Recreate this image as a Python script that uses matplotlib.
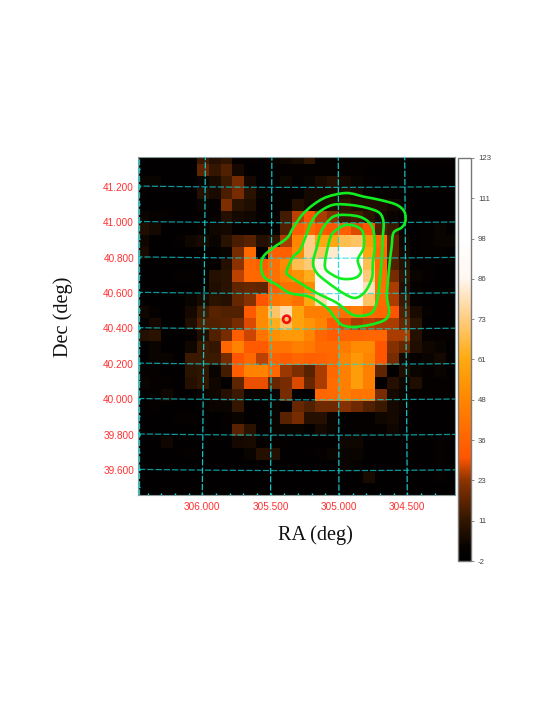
import numpy as np
import matplotlib
matplotlib.use("Agg")
import matplotlib.pyplot as plt
from matplotlib.colors import LinearSegmentedColormap, Normalize
from matplotlib.cm import ScalarMappable
from matplotlib.path import Path
from matplotlib.patches import PathPatch

counts = [
 [0,0,0,0,0,12,8,10,2,2,2,3,4,6,10,1,1,1,1,1,1,1,1,1,1,1,1],
 [0,0,0,0,0,17,11,15,5,0,0,1,1,1,1,1,1,1,1,0,0,0,0,0,0,0,0],
 [3,3,0,0,0,3,6,12,20,5,0,0,4,2,3,6,8,5,3,1,0,0,0,0,0,0,0],
 [2,0,0,0,0,8,6,14,20,9,3,0,1,2,5,5,6,7,6,3,2,1,0,0,0,0,0],
 [0,0,0,0,0,3,1,21,9,7,2,2,1,8,5,6,7,10,7,7,7,5,3,0,0,0,0],
 [3,2,1,0,0,0,2,8,5,4,1,2,13,26,30,25,22,12,13,9,5,3,1,0,0,0,0],
 [7,5,0,0,0,1,4,5,2,2,1,2,15,32,38,32,30,33,28,30,15,12,2,0,2,3,0],
 [4,0,0,1,4,6,3,9,14,16,8,10,25,48,74,60,60,68,70,55,40,16,4,0,1,3,3],
 [6,0,0,0,0,0,1,3,20,38,1,33,34,50,74,70,82,95,88,60,38,16,5,0,1,2,0],
 [0,0,0,0,0,0,2,8,23,37,33,40,50,68,72,85,110,118,105,68,38,15,8,0,2,0,0],
 [0,0,0,1,1,0,8,9,26,37,37,40,48,52,62,88,120,120,120,72,40,20,10,3,1,0,0],
 [0,0,0,0,0,2,7,9,17,18,17,33,40,40,50,95,120,120,120,80,40,25,8,2,0,0,0],
 [0,0,0,0,3,6,9,8,18,22,30,42,45,40,60,78,95,95,90,70,38,25,12,1,0,0,0],
 [4,2,0,0,5,12,16,15,15,32,50,70,78,58,45,45,45,40,45,38,36,30,15,6,1,0,0],
 [2,5,0,0,7,15,15,16,20,28,50,62,70,58,53,48,32,28,25,26,25,25,18,9,0,0,0],
 [8,9,0,0,2,7,15,20,33,27,41,51,55,55,48,36,33,35,35,36,36,25,25,8,2,2,1],
 [0,3,0,0,4,12,11,36,47,32,32,41,42,46,43,38,38,44,50,50,30,22,18,7,4,3,0],
 [0,3,3,0,12,12,12,20,30,37,26,35,33,36,34,35,37,48,54,48,30,20,5,1,3,5,0],
 [2,1,0,0,9,10,3,13,33,47,47,37,24,21,16,25,37,46,56,46,17,0,7,3,1,3,0],
 [3,2,1,0,8,10,4,0,17,29,29,18,20,28,18,25,39,46,56,46,0,8,4,7,1,2,2],
 [0,2,4,0,0,3,4,8,12,3,3,3,20,0,0,36,38,45,42,42,20,5,3,2,1,2,2],
 [0,1,0,0,0,1,3,3,11,0,0,3,0,18,15,19,19,22,19,15,12,5,3,0,0,0,0],
 [0,0,0,1,2,0,0,1,3,0,0,3,16,20,8,8,3,2,2,2,4,5,1,0,0,0,0],
 [0,0,0,0,0,0,0,1,16,9,1,3,3,3,1,5,3,1,1,2,2,4,0,0,0,0,0],
 [0,0,4,0,0,0,0,0,5,6,1,2,0,0,0,0,0,4,4,0,0,0,0,0,0,2,0],
 [0,0,0,0,1,0,0,0,0,3,8,8,0,0,0,2,3,3,3,0,0,0,0,0,0,2,0],
 [0,0,0,0,0,0,0,0,0,0,0,0,0,0,0,0,0,3,2,0,0,0,0,0,0,2,0],
 [0,0,0,0,0,0,0,0,0,0,0,0,0,0,0,0,0,0,0,6,0,0,0,0,0,1,0],
 [0,0,0,0,0,0,0,0,0,0,0,0,0,0,0,0,0,0,0,0,0,0,0,0,0,0,0],
]

contour1_ra = [305.577,305.562,305.488,305.384,305.339,305.272,305.190,305.086,304.938,304.804,304.692,304.566,304.506,304.499,304.528,304.588,304.603,304.618,304.632,304.640,304.625,304.655,304.766,304.893,304.975,305.027,305.086,305.213,305.362,305.458,305.548]
contour1_dec = [40.745,40.807,40.858,40.914,40.971,41.044,41.101,41.146,41.168,41.146,41.129,41.101,41.061,41.005,40.971,40.942,40.863,40.773,40.666,40.581,40.496,40.451,40.423,40.411,40.423,40.462,40.519,40.581,40.603,40.649,40.688]
contour2_ra = [305.384,305.339,305.287,305.235,305.213,305.153,305.042,304.915,304.789,304.692,304.662,304.670,304.677,304.692,304.707,304.737,304.789,304.893,305.012,305.161,305.287,305.376]
contour2_dec = [40.733,40.807,40.846,40.942,40.988,41.055,41.101,41.101,41.084,41.055,40.999,40.903,40.790,40.677,40.581,40.507,40.479,40.479,40.547,40.603,40.660,40.705]
contour3_ra = [305.190,305.161,305.124,305.042,304.938,304.818,304.744,304.729,304.744,304.751,304.804,304.878,304.967,305.086,305.161]
contour3_dec = [40.773,40.863,40.959,41.033,41.044,41.027,40.971,40.863,40.773,40.688,40.609,40.575,40.603,40.666,40.716]
contour4_ra = [305.101,305.079,305.042,304.938,304.826,304.811,304.856,304.833,304.878,304.967,305.042]
contour4_dec = [40.750,40.863,40.942,40.988,40.959,40.863,40.790,40.722,40.688,40.683,40.705]
contours = [(contour1_ra, contour1_dec), (contour2_ra, contour2_dec),
            (contour3_ra, contour3_dec), (contour4_ra, contour4_dec)]

source_ra = [305.386]
source_dec = [40.455]

ra_major = [306.0, 305.5, 305.0, 304.5]
ra_labels = ["306.000", "305.500", "305.000", "304.500"]
dec_major = [41.2, 41.0, 40.8, 40.6, 40.4, 40.2, 40.0, 39.8, 39.6]
dec_labels = ["41.200", "41.000", "40.800", "40.600", "40.400", "40.200", "40.000", "39.800", "39.600"]
cbar_ticks = [123, 110.5, 98, 85.5, 73, 60.5, 48, 35.5, 23, 10.5, -2]
cbar_labels = ["123", "111", "98", "86", "73", "61", "48", "36", "23", "11", "-2"]
vmin, vmax = -2, 123
cmap_values = [-2, 2, 11, 23, 30, 48, 61, 73, 86, 98, 123]
cmap_colors = ["#000000", "#060200", "#351700", "#8c3300", "#ff5500", "#ff8600",
               "#ffab10", "#ffcc80", "#fff7f2", "#ffffff", "#ffffff"]

W, H = 555, 719
fig = plt.figure(figsize=(W / 100, H / 100), dpi=100)

def box(x0, y0, x1, y1):
    return [x0 / W, 1 - y1 / H, (x1 - x0) / W, (y1 - y0) / H]

ax = fig.add_axes(box(138, 157, 455, 495))
ax.set_facecolor("black")

RA0, DEC0, X0, Y0, SCALE = 305.17, 40.5, 315.7, 311.3, 177.0

def sky_to_pix(ra, dec):
    ra, dec = np.radians(np.asarray(ra, float)), np.radians(np.asarray(dec, float))
    r0, d0 = np.radians(RA0), np.radians(DEC0)
    c = np.sin(d0) * np.sin(dec) + np.cos(d0) * np.cos(dec) * np.cos(ra - r0)
    xi = np.degrees(np.cos(dec) * np.sin(ra - r0) / c)
    eta = np.degrees((np.cos(d0) * np.sin(dec) - np.sin(d0) * np.cos(dec) * np.cos(ra - r0)) / c)
    return X0 - SCALE * xi, Y0 - SCALE * eta

cmap = LinearSegmentedColormap.from_list(
    "heat", [((v - vmin) / (vmax - vmin), c) for v, c in zip(cmap_values, cmap_colors)], N=512)
norm = Normalize(vmin, vmax)

img = np.array(counts, float)
CELL = 11.83
ax.imshow(img, cmap=cmap, norm=norm, interpolation="nearest", aspect="auto",
          extent=(137.5, 137.5 + img.shape[1] * CELL, 164 + (img.shape[0] - 1) * CELL, 164 - CELL),
          zorder=1)
ax.set_xlim(138, 455)
ax.set_ylim(495, 157)

# coordinate grid
grid_kw = dict(color="#10d8dc", lw=0.9, dashes=(5, 1.6), zorder=3)
dec_span = np.linspace(39.3, 41.5, 60)
ra_span = np.linspace(304.0, 306.8, 60)
for r in ra_major:
    x, y = sky_to_pix(np.full_like(dec_span, r), dec_span)
    ax.plot(x, y, alpha=0.9, **grid_kw)
for d in dec_major:
    x, y = sky_to_pix(ra_span, np.full_like(ra_span, d))
    ax.plot(x, y, alpha=0.7, **grid_kw)
ax.axvline(138.8, alpha=0.9, **grid_kw)

# contours
for c_ra, c_dec in contours:
    x, y = sky_to_pix(c_ra, c_dec)
    p = np.column_stack([x, y])
    n = len(p)
    verts, codes = [p[0]], [Path.MOVETO]
    for i in range(n):
        p0, p1, p2, p3 = p[(i - 1) % n], p[i], p[(i + 1) % n], p[(i + 2) % n]
        verts += [p1 + (p2 - p0) / 6, p2 - (p3 - p1) / 6, p2]
        codes += [Path.CURVE4] * 3
    ax.add_patch(PathPatch(Path(verts, codes), fc="none", ec="#10ee20", lw=1.9, zorder=4))

# source marker
sx, sy = sky_to_pix(source_ra, source_dec)
ax.scatter(sx, sy, s=26, facecolors="none", edgecolors="#f01010", linewidths=1.9, zorder=5)

# ticks
bx, _ = sky_to_pix(np.array(ra_major), np.full(len(ra_major), 39.47))
_, ly = sky_to_pix(np.full(len(dec_major), 306.4), np.array(dec_major))
ax.set_xticks(bx)
ax.set_xticklabels(ra_labels, family="Liberation Sans", fontsize=7.2, color="#ff3030")
ax.set_yticks(ly + 0.5)
ax.set_yticklabels(dec_labels, family="Liberation Sans", fontsize=7.2, color="#ff3030")
ra_minor = np.arange(304.3, 306.56, 0.1)
dec_minor = np.arange(39.5, 41.36, 0.1)
mx, _ = sky_to_pix(ra_minor, np.full(len(ra_minor), 39.47))
_, my = sky_to_pix(np.full(len(dec_minor), 306.4), dec_minor)
mx = mx[(mx > 139) & (mx < 454)]
my = my[(my > 158) & (my < 494)]
ax.set_xticks(mx, minor=True)
ax.set_yticks(my, minor=True)
ax.tick_params(axis="x", which="major", direction="in", length=1.5, width=1, color="#10e0e0", pad=5)
ax.tick_params(axis="y", which="major", direction="in", length=1.5, width=1, color="#10e0e0", pad=2.8)
ax.tick_params(axis="both", which="minor", direction="in", length=1.5, width=1, color="#10e0e0")
for s in ax.spines.values():
    s.set_color("#8a9a9a")
    s.set_linewidth(0.8)

fig.text(315.7 / W, 1 - 535 / H, "RA (deg)", family="Liberation Serif", fontsize=14.6,
         color="#111111", ha="center", va="center")
fig.text(63 / W, 1 - 317 / H, "Dec (deg)", family="Liberation Serif", fontsize=14.6,
         color="#111111", ha="center", va="center", rotation=90)

# colour bar
cax = fig.add_axes(box(458, 158, 470.5, 561))
cb = fig.colorbar(ScalarMappable(norm=norm, cmap=cmap), cax=cax)
cb.set_ticks(cbar_ticks)
cb.set_ticklabels(cbar_labels)
cb.ax.tick_params(length=2.5, width=0.6, color="#777777", labelcolor="#444444", labelsize=5.6, pad=2.8)
for lab in cb.ax.get_yticklabels():
    lab.set_family("Liberation Sans")
cb.outline.set_edgecolor("#777777")
cb.outline.set_linewidth(1.0)

fig.savefig("out.png", dpi=100)
